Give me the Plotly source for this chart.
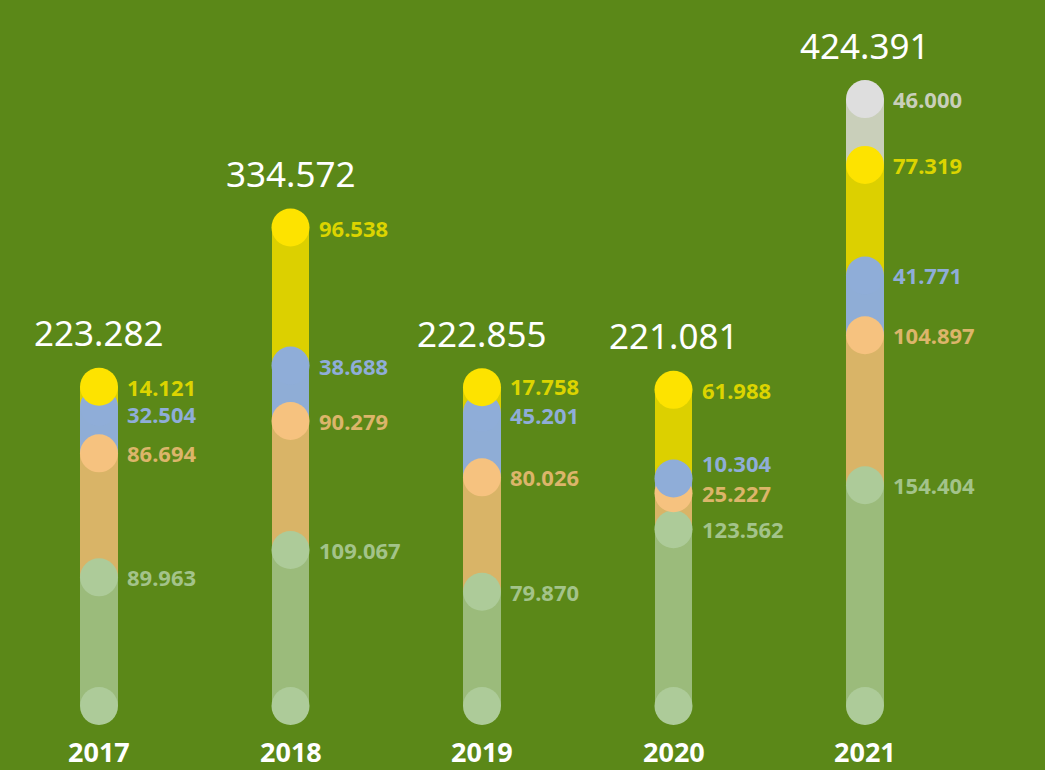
import plotly.graph_objects as go

years = ["2017", "2018", "2019", "2020", "2021"]
green = [89.963, 109.067, 79.870, 123.562, 154.404]
orange = [86.694, 90.279, 80.026, 25.227, 104.897]
blue = [32.504, 38.688, 45.201, 10.304, 41.771]
yellow = [14.121, 96.538, 17.758, 61.988, 77.319]
gray = [0, 0, 0, 0, 46.000]
totals = [223.282, 334.572, 222.855, 221.081, 424.391]

series = [green, orange, blue, yellow, gray]
bar_colors = ["#9bbb7b", "#d9b467", "#8fadd6", "#dcd000", "#c9cfba"]
dot_colors = ["#adcb99", "#f6c27f", "#8fadd8", "#fde300", "#dedede"]
label_colors = ["#a3c38a", "#dcb56a", "#8fadd8", "#dcd400", "#c9cfba"]
# small vertical nudges (px) to keep labels from colliding
nudges = {(2, 0): -7, (2, 2): -2, (3, 2): 1, (2, 3): 15}

BG = "#5b8818"
FONT = "Noto Sans"

fig = go.Figure()

# stacked bars
for s, c in zip(series, bar_colors):
    fig.add_trace(go.Bar(x=years, y=s, marker=dict(color=c, line=dict(width=0)),
                         width=0.198, hoverinfo="skip"))

# bottom caps
fig.add_trace(go.Scatter(x=years, y=[0] * len(years), mode="markers",
                         marker=dict(size=38, color=dot_colors[0], line=dict(width=0)),
                         hoverinfo="skip"))

annotations = []
cum = [0.0] * len(years)
for si, (s, dc, lc) in enumerate(zip(series, dot_colors, label_colors)):
    xs, ys = [], []
    for i, v in enumerate(s):
        if v <= 0:
            continue
        cum[i] += v
        xs.append(years[i])
        ys.append(cum[i])
        annotations.append(dict(
            x=i, y=cum[i], xref="x", yref="y", text=f"<b>{v:.3f}</b>",
            showarrow=False, xanchor="left", yanchor="middle", xshift=26,
            yshift=nudges.get((si, i), 0),
            font=dict(family=FONT, size=22, color=lc)))
    fig.add_trace(go.Scatter(x=xs, y=ys, mode="markers",
                             marker=dict(size=38, color=dc, line=dict(width=0)),
                             hoverinfo="skip"))

for i, y in enumerate(years):
    annotations.append(dict(
        x=i, y=totals[i], xref="x", yref="y", text=f"{totals[i]:.3f}",
        showarrow=False, xanchor="center", yanchor="middle", yshift=54,
        font=dict(family=FONT, size=35, color="white")))
    annotations.append(dict(
        x=i, y=0, xref="x", yref="y", text=f"<b>{y}</b>",
        showarrow=False, xanchor="center", yanchor="middle", yshift=-46,
        font=dict(family=FONT, size=27, color="white")))

fig.update_layout(
    width=1045, height=770,
    margin=dict(l=0, r=0, t=0, b=0),
    paper_bgcolor=BG, plot_bgcolor=BG,
    barmode="stack", showlegend=False,
    xaxis=dict(range=[-0.517, 4.940], visible=False, type="category"),
    yaxis=dict(range=[-44.76, 493.7], visible=False),
    annotations=annotations,
)

fig.write_html("out.html", config={"displayModeBar": False},
               post_script="document.body.style.margin='0';")
